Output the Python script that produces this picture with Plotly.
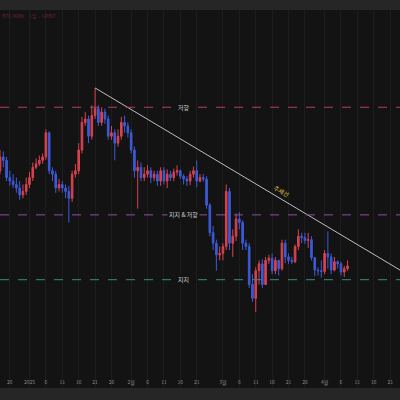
import pandas as pd
import plotly.graph_objects as go

# 일봉 데이터 (단위: 천 달러), 2024-12-22 ~ 2025-04-08
dates = pd.date_range("2024-12-22", "2025-04-08", freq="D")
first_open = 97.5
closes = [97, 99, 98.5, 96, 95.5, 95, 94.5, 93.5, 94, 95,
          96, 97.5, 98, 98.5, 99, 102.5, 97, 96.5, 94.5, 95,
          94.5, 94, 93, 96.5, 97, 100, 104, 104.5, 102, 105,
          106, 104, 105.5, 104.5, 102, 102.5, 101, 102, 104, 103.5, 102.5,
          100, 97, 97.5, 96, 96.5, 97, 96, 96.5, 95.5, 97,
          95.5, 96.5, 96, 96.8, 97, 96.2, 95.8, 95.5, 96.5, 97,
          95.5, 96, 95.8, 92, 88, 86.5, 84.8, 85,
          86, 94, 86.5, 87.5, 90, 89.5, 86.5, 86, 80.5, 78.5,
          82.5, 83.5, 80.5, 84, 84.3, 82.5, 84, 82.8, 86.5, 84.5,
          84, 83.8, 86, 87.5, 87.3, 86.9, 87, 84.4, 82.6, 82.5, 82.4,
          85, 84.5, 82.6, 83.8, 83.5, 82.3, 82.8, 83.2]
highs = [98.5, 100, 99.8, 99, 97, 96.5, 96, 95.5, 95, 96,
         96.8, 98.2, 98.8, 99.2, 99.5, 103, 102.7, 97.5, 97, 95.8,
         95.5, 95, 94.8, 97, 98, 101, 104.8, 105.5, 105, 106.5,
         109, 106.5, 106.2, 106, 105, 103.5, 103, 103, 104.8, 105, 104,
         103, 100.5, 98.5, 98.2, 97.5, 97.8, 97.5, 97, 97, 97.5,
         97.5, 97.2, 97, 97.3, 97.8, 97.2, 96.5, 96.2, 97, 97.6,
         98.5, 96.5, 96.5, 96.2, 92.3, 89, 87, 86,
         86.5, 95, 94.5, 88.5, 90.8, 91, 89.8, 87, 86.5, 82,
         83, 84, 84.2, 84.5, 84.8, 85, 84.5, 84.1, 87, 87,
         85, 84.5, 86.3, 88.5, 88, 88, 88, 87.5, 84.5, 83, 84,
         85.5, 88.2, 85, 84.5, 84, 83.8, 83.2, 84]
lows = [96, 96.5, 97.5, 95.5, 94.8, 94.5, 93.8, 92.8, 93, 93.5,
        94.5, 95.5, 97.2, 97.7, 98, 98.6, 96.5, 95.5, 93.8, 94,
        93.8, 93, 89.5, 92.5, 96, 96.5, 99.5, 103.5, 101, 101.5,
        104.5, 103.5, 103.5, 103.8, 101.5, 101.5, 98.5, 100.5, 101.5, 102.5, 101.8,
        99.5, 96, 91.5, 95.5, 95.5, 96, 95.2, 95.5, 94.8, 94.8,
        95, 94.5, 95.5, 95.5, 96.3, 95.8, 95, 94.8, 94.9, 96,
        94.6, 95.3, 95.4, 91.5, 87.5, 85.5, 82.5, 84,
        84, 85.5, 85.5, 84.5, 86.8, 88.5, 85.5, 85.5, 80, 78,
        76.5, 80.5, 80, 80.5, 83.5, 82, 82, 81.8, 82.5, 83.6,
        83.5, 83.5, 83.6, 85.5, 86.5, 86.4, 85.8, 84, 81.7, 81.8, 81.5,
        82, 82.8, 82, 82.4, 82.8, 81.8, 81.6, 82.5]
opens = [first_open] + closes[:-1]

# 수평선 레벨
level_values = [106.2, 90.6, 81.2]
level_names = ["저항", "지지 & 저항", "지지"]
level_colors = ["#b83a74", "#8a4fb0", "#2f8f86"]

# 추세선
trend_x = ["2025-01-21", "2025-04-24"]
trend_y = [109, 82.6]

tick_vals = ["2024-12-26", "2025-01-01", "2025-01-06", "2025-01-11", "2025-01-16",
             "2025-01-21", "2025-01-26", "2025-02-01", "2025-02-06", "2025-02-11",
             "2025-02-16", "2025-02-21", "2025-03-01", "2025-03-06", "2025-03-11",
             "2025-03-16", "2025-03-21", "2025-03-26", "2025-04-01", "2025-04-06",
             "2025-04-11", "2025-04-16", "2025-04-21"]
tick_text = ["26", "2025", "6", "11", "16", "21", "26", "2월", "6", "11", "16", "21",
             "3월", "6", "11", "16", "21", "26", "4월", "6", "11", "16", "21"]

fig = go.Figure()
fig.add_trace(go.Candlestick(
    x=dates, open=opens, high=highs, low=lows, close=closes,
    increasing=dict(line=dict(color="#d8434f", width=1), fillcolor="#d8434f"),
    decreasing=dict(line=dict(color="#3d5bd8", width=1), fillcolor="#3d5bd8"),
    whiskerwidth=0, showlegend=False,
))

fig.add_trace(go.Scatter(x=trend_x, y=trend_y, mode="lines",
                         line=dict(color="#bdbdbd", width=1), showlegend=False))

for val, name, col in zip(level_values, level_names, level_colors):
    fig.add_hline(y=val, line=dict(color=col, width=1, dash="dash"))
    fig.add_annotation(x="2025-02-17", y=val, text=name, showarrow=False,
                       font=dict(size=6, color="#cfcfcf"), bgcolor="#131313")

fig.add_annotation(x="2025-03-19", y=94.0, text="추세선", showarrow=False,
                   textangle=30, font=dict(size=6, color="#e6c84a"))

fig.add_annotation(x=0, y=1, xref="paper", yref="paper", xanchor="left", yanchor="top",
                   text="BTC/KRW · 1일 · UPBIT", showarrow=False,
                   font=dict(size=5, color="#6a2030"))

fig.update_layout(
    width=400, height=400,
    margin=dict(l=0, r=0, t=10, b=12),
    paper_bgcolor="#262626", plot_bgcolor="#131313",
    font=dict(family="Noto Sans CJK KR"),
    xaxis=dict(range=["2024-12-23", "2025-04-24"], rangeslider=dict(visible=False),
               tickvals=tick_vals, ticktext=tick_text, ticklabelposition="inside",
               tickfont=dict(size=5, color="#8a8a8a"), ticks="",
               showgrid=True, gridcolor="#1d1d1d"),
    yaxis=dict(range=[65.5, 120.3], showticklabels=False, showgrid=False, zeroline=False),
)

fig.write_html("out.html", config={"displayModeBar": False},
               post_script="document.body.style.margin='0';")
